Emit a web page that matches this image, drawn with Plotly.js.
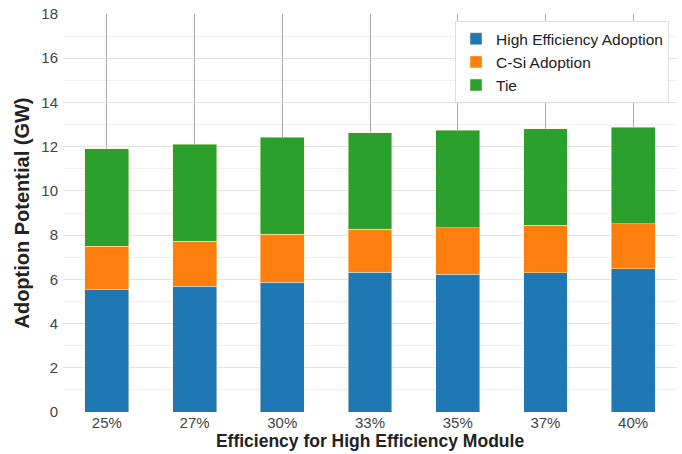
<!DOCTYPE html>
<html>
<head>
<meta charset="utf-8">
<script src="https://cdn.plot.ly/plotly-3.0.1.min.js"></script>
<style>html,body{margin:0;padding:0;background:#fff;}#chart{width:682px;height:454px;}</style>
</head>
<body>
<div id="chart"></div>
<script>
const categories = ["25%", "27%", "30%", "33%", "35%", "37%", "40%"];
const highEfficiency = [5.52, 5.68, 5.87, 6.32, 6.24, 6.30, 6.47];
const cSi = [1.98, 2.05, 2.17, 1.94, 2.10, 2.14, 2.05];
const tie = [4.40, 4.39, 4.39, 4.36, 4.40, 4.36, 4.36];
const seriesNames = ["High Efficiency Adoption", "C-Si Adoption", "Tie"];
const seriesColors = ["#1f77b4", "#ff7f0e", "#2ca02c"];
const yTicks = [0, 2, 4, 6, 8, 10, 12, 14, 16, 18];

const seriesValues = [highEfficiency, cSi, tie];
const traces = seriesValues.map((vals, i) => ({
  type: "bar",
  x: categories,
  y: vals,
  name: seriesNames[i],
  width: 0.5,
  marker: { color: seriesColors[i], line: { color: "rgba(255,240,200,0.8)", width: 0.6 } },
  hoverinfo: "skip"
}));

const layout = {
  width: 682,
  height: 454,
  margin: { l: 63, r: 5, t: 14, b: 42 },
  paper_bgcolor: "#ffffff",
  plot_bgcolor: "#ffffff",
  barmode: "stack",
  font: { family: "Liberation Sans, Arial, sans-serif", color: "#333333" },
  showlegend: true,
  legend: {
    x: 0.987, xanchor: "right", y: 0.982, yanchor: "top",
    bgcolor: "rgba(255,255,255,1)", bordercolor: "#dddddd", borderwidth: 1,
    font: { size: 15.5, color: "#222222" },
    traceorder: "normal"
  },
  xaxis: {
    type: "category",
    range: [-0.5, 6.5],
    showgrid: true,
    gridcolor: "#aaaaaa",
    gridwidth: 1,
    showline: false,
    zeroline: false,
    ticks: "",
    tickfont: { size: 15, color: "#444444" },
    title: { text: "<b>Efficiency for High Efficiency Module</b>", font: { size: 17.5, color: "#222222" }, standoff: 1 },
    fixedrange: true
  },
  yaxis: {
    range: [0, 18],
    tickvals: yTicks,
    showgrid: true,
    gridcolor: "#e3e3e3",
    gridwidth: 1,
    minor: { dtick: 1, showgrid: true, gridcolor: "#f0f0f0", gridwidth: 1 },
    zeroline: false,
    showline: false,
    ticks: "",
    ticklabelstandoff: 4,
    tickfont: { size: 15, color: "#444444" },
    title: { text: "<b>Adoption Potential (GW)</b>", font: { size: 20, color: "#222222" }, standoff: 6 },
    fixedrange: true
  }
};

Plotly.newPlot("chart", traces, layout, { displayModeBar: false, staticPlot: true });
</script>
</body>
</html>
